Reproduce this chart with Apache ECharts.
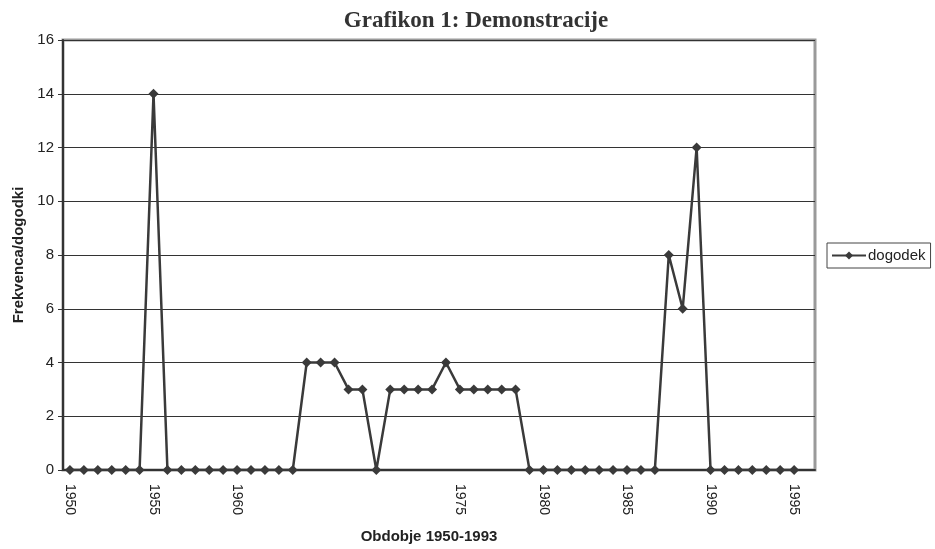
<!DOCTYPE html>
<html>
<head>
<meta charset="utf-8">
<script src="https://cdn.jsdelivr.net/npm/echarts@6/dist/echarts.min.js"></script>
<style>
  html, body { margin: 0; padding: 0; background: #fff; }
  #main { width: 935px; height: 549px; }
</style>
</head>
<body>
<div id="main"></div>
<script>
// kategorije (samo nekatere imajo napis)
var categories = ['1950','','','','','','1955','','','','','','1960','','','','',
    '','','','','','','','','','','','1975','','','','','','1980','','','','','',
    '1985','','','','','','1990','','','','','','1995',''];
// dogodki po kategorijah
var dogodek = [0,0,0,0,0,0,14,0,0,0,0,0,0,0,0,0,0,
    4,4,4,3,3,0,3,3,3,3,4,3,3,3,3,3,0,
    0,0,0,0,0,0,0,0,0,8,6,12,0,0,0,0,0,0,0,'-'];
var yTicks = [0, 16, 2];

var chart = echarts.init(document.getElementById('main'));
var option = {
    backgroundColor: '#fff',
    animation: false,
    title: {
        text: 'Grafikon 1: Demonstracije',
        left: 471,
        textAlign: 'center',
        top: 5,
        textStyle: {
            fontFamily: 'Liberation Serif',
            fontSize: 23,
            fontWeight: 'bold',
            color: '#333'
        }
    },
    legend: {
        data: ['dogodek'],
        left: 827,
        top: 243,
        orient: 'vertical',
        padding: [5, 5, 5, 4],
        borderColor: '#444',
        borderWidth: 1,
        itemWidth: 34,
        itemHeight: 10,
        itemGap: 4,
        textStyle: { fontFamily: 'Liberation Sans', fontSize: 15, color: '#222', padding: [0, 0, 0, -3] }
    },
    grid: {
        left: 63,
        right: 120,
        top: 40,
        bottom: 78,
        show: true,
        borderColor: '#9a9a9a',
        borderWidth: 3
    },
    xAxis: {
        type: 'category',
        data: categories,
        name: 'Obdobje 1950-1993',
        nameLocation: 'middle',
        nameGap: 59,
        nameTextStyle: {
            fontFamily: 'Liberation Sans', fontSize: 15, fontWeight: 'bold', color: '#222',
            padding: [0, 20, 0, 0]
        },
        axisLine: { lineStyle: { color: '#333', width: 2 } },
        axisTick: { interval: 0, length: 5, lineStyle: { color: '#333' } },
        axisLabel: {
            interval: 0,
            rotate: -90,
            margin: 14,
            fontFamily: 'Liberation Sans',
            fontSize: 14,
            color: '#222'
        },
        splitLine: { show: false }
    },
    yAxis: {
        type: 'value',
        min: yTicks[0],
        max: yTicks[1],
        interval: yTicks[2],
        name: 'Frekvenca/dogodki',
        nameLocation: 'middle',
        nameGap: 37,
        nameTextStyle: { fontFamily: 'Liberation Sans', fontSize: 15, fontWeight: 'bold', color: '#222' },
        axisLine: { show: true, lineStyle: { color: '#333', width: 2 } },
        axisTick: { show: true, length: 5, lineStyle: { color: '#333' } },
        axisLabel: { margin: 9, fontFamily: 'Liberation Sans', fontSize: 15, color: '#222' },
        splitLine: { lineStyle: { color: '#333', width: 1 } }
    },
    series: [{
        name: 'dogodek',
        type: 'line',
        data: dogodek,
        symbol: 'diamond',
        symbolSize: 10,
        lineStyle: { color: '#3a3a3a', width: 2.5 },
        itemStyle: { color: '#3a3a3a' }
    }]
};
chart.setOption(option);
</script>
</body>
</html>
